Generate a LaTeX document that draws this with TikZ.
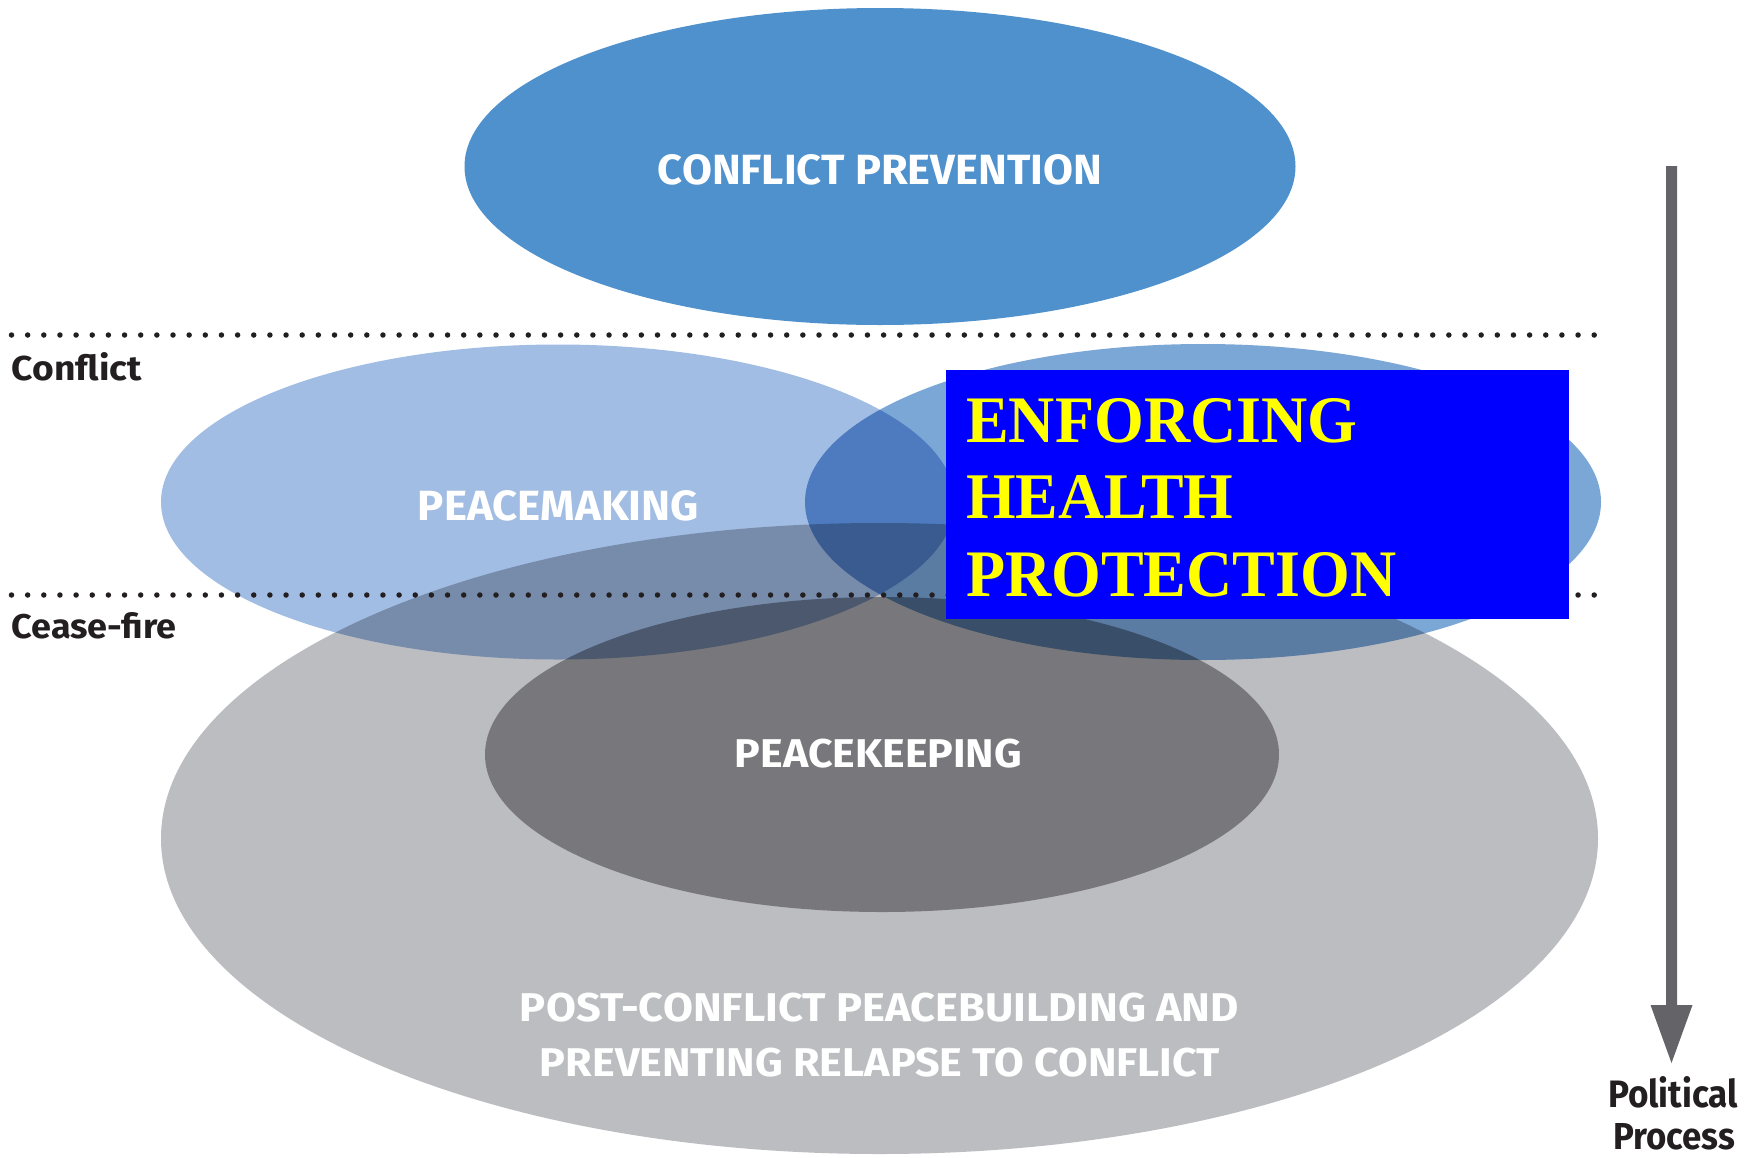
\documentclass[tikz,border=0pt]{standalone}
\usepackage{fontspec}
\usepackage{graphicx}
\newfontfamily\labelfont{Fira Sans}
\newfontfamily\boxfont{Liberation Serif}
\definecolor{cpblue}{HTML}{4F91CC}
\definecolor{mkblue}{HTML}{A2BDE3}
\definecolor{enblue}{HTML}{7BA7D7}
\definecolor{pbgray}{HTML}{BCBDC1}
\definecolor{pkgray}{HTML}{A3A3A4}
\definecolor{ink}{HTML}{231F20}
\definecolor{arrowgray}{HTML}{646468}
\definecolor{boxblue}{HTML}{0000FF}
\definecolor{boxyellow}{HTML}{FFFF00}
% fit a text into a given width and height (in pt)
\newcommand{\fitto}[3]{\resizebox{#1pt}{#2pt}{#3}}
\begin{document}
\begin{tikzpicture}[x=1pt,y=-1pt,
  phase/.style={line width=5.5pt,ink,line cap=round,dash pattern=on 0pt off 16.15pt},
  inlabel/.style={inner sep=0pt,text=white,font=\labelfont\bfseries},
  sidelabel/.style={inner sep=0pt,text=ink,font=\labelfont\bfseries},
  boxline/.style={inner sep=0pt,anchor=base west,text=boxyellow,font=\boxfont\bfseries}]
\useasboundingbox (0,0) rectangle (1754,1157);
\fill[white] (0,0) rectangle (1754,1157);

% top ellipse
\fill[cpblue] (880,166.5) ellipse [x radius=415.5, y radius=158.5];

% overlapping ellipses, colours multiply where they overlap
\begin{scope}[blend group=multiply]
  \fill[pbgray] (879.5,838.5) ellipse [x radius=718.5, y radius=315.5];
  \fill[pkgray] (882,754.5) ellipse [x radius=397, y radius=157.5];
  \fill[mkblue] (558,502) ellipse [x radius=397, y radius=157.5];
  \fill[enblue] (1203,502) ellipse [x radius=398, y radius=158];
\end{scope}

% phase separators
\draw[phase] (11.5,335) -- (1600,335);
\draw[phase] (11.5,595) -- (1600,595);

% labels inside the ellipses
\node[inlabel] (cp) at (880,170) {\fitto{444}{30}{CONFLICT PREVENTION}};
\node[inlabel] (pm) at (558.5,506) {\fitto{281}{30}{PEACEMAKING}};
\node[inlabel] (pk) at (878.5,754) {\fitto{287}{28.5}{PEACEKEEPING}};
\node[inlabel] (pb1) at (879.5,1008) {\fitto{719}{28.5}{POST-CONFLICT PEACEBUILDING AND}};
\node[inlabel] (pb2) at (880,1063) {\fitto{680}{28.5}{PREVENTING RELAPSE TO CONFLICT}};

% phase labels
\node[sidelabel,anchor=base west] (conflict) at (11.5,380) {\fitto{130}{28}{Conflict}};
\node[sidelabel,anchor=base west] (ceasefire) at (11.5,638) {\fitto{165}{26}{Cease-fire}};

% overlay box
\fill[boxblue] (946,370) rectangle (1569,619);
\node[boxline] (l1) at (966,442) {\fitto{391}{44}{ENFORCING}};
\node[boxline] (l2) at (966,518) {\fitto{267}{43}{HEALTH}};
\node[boxline] (l3) at (966,596) {\fitto{430}{44}{PROTECTION}};

% political process arrow
\coordinate (atop) at (1671.5,166);
\coordinate (abase) at (1671.5,1005);
\coordinate (atip) at (1671.5,1063);
\fill[arrowgray] ([xshift=-5.5pt]atop) -- ([xshift=5.5pt]atop) -- ([xshift=5.5pt]abase)
  -- ([xshift=21pt]abase) -- (atip) -- ([xshift=-21pt]abase) -- ([xshift=-5.5pt]abase) -- cycle;
\node[sidelabel,anchor=base] (pol) at (1673,1107) {\fitto{130}{31}{Political}};
\node[sidelabel,anchor=base] (proc) at (1674,1149) {\fitto{122}{26}{Process}};
\end{tikzpicture}
\end{document}
